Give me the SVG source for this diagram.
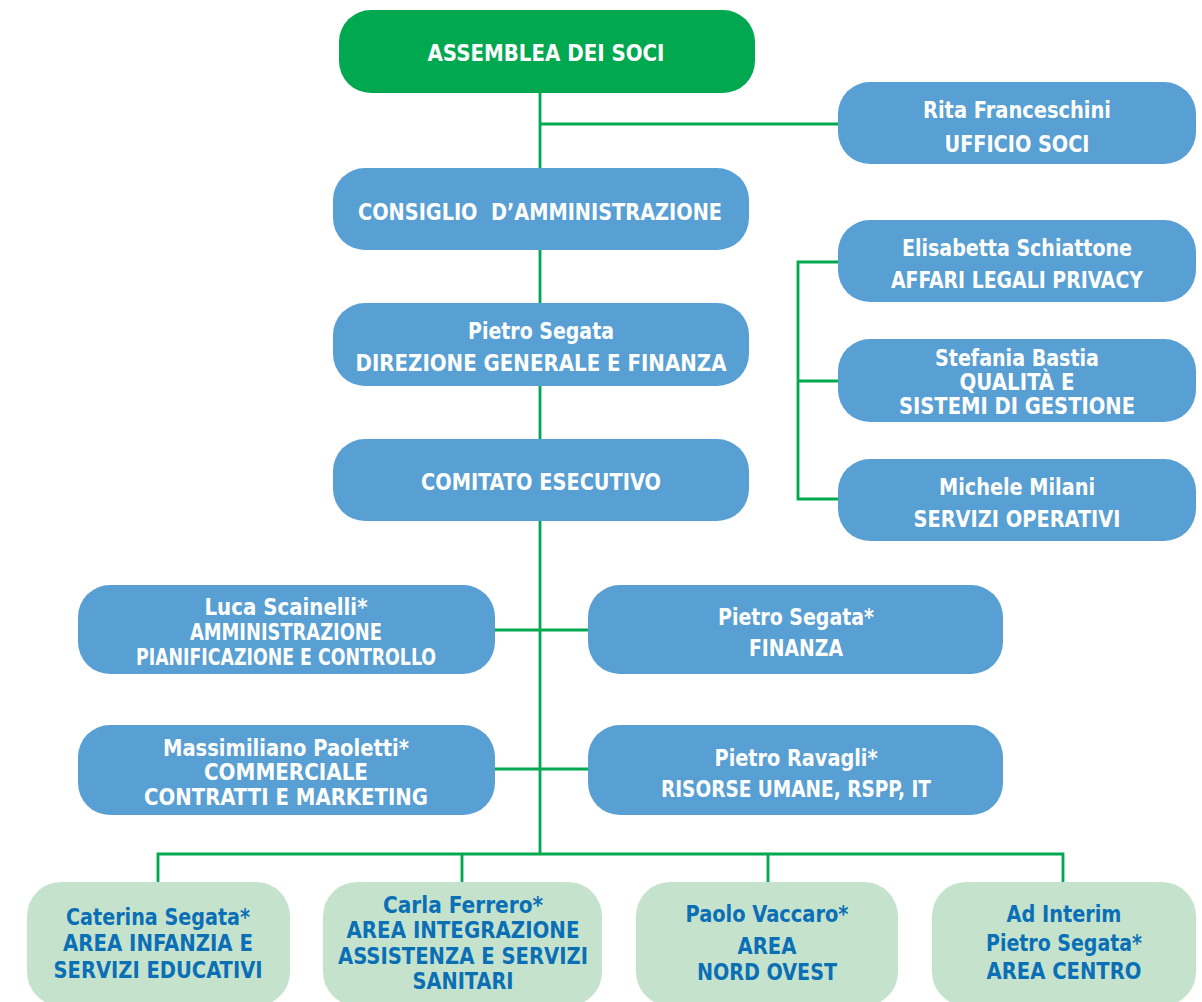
<svg xmlns="http://www.w3.org/2000/svg" width="1202" height="1002" viewBox="0 0 1202 1002">
<style>
.g{fill:#00a850}
.b{fill:#589fd3}
.l{fill:#c5e3cc}
text{font-family:"DejaVu Sans Condensed","DejaVu Sans","Liberation Sans",sans-serif;font-weight:bold;font-size:23px;text-anchor:middle}
.w{fill:#ffffff}
.d{fill:#0b6fb6}
.c{fill:none;stroke:#00a850;stroke-width:2.8}
</style>
<rect width="1202" height="1002" fill="#ffffff"/>
<g id="connectors" class="c">
<path d="M540 93V854"/>
<path d="M540 124H838"/>
<path d="M838 262H798V499H838M798 381H838"/>
<path d="M495 630H588M495 769H588"/>
<path d="M158 882V854H1063V882M462 854V882M768 854V882"/>
</g>
<g id="assemblea"><rect class="g" x="339" y="10" width="416" height="83" rx="32"/><text class="w" x="546" y="61" textLength="237" lengthAdjust="spacingAndGlyphs">ASSEMBLEA DEI SOCI</text></g>
<g id="ufficio-soci"><rect class="b" x="838" y="82" width="358" height="82" rx="32"/><text class="w" x="1017" y="118" textLength="188" lengthAdjust="spacingAndGlyphs">Rita Franceschini</text><text class="w" x="1017" y="152" textLength="145" lengthAdjust="spacingAndGlyphs">UFFICIO SOCI</text></g>
<g id="consiglio"><rect class="b" x="333" y="168" width="416" height="82" rx="32"/><text class="w" x="540" y="220" textLength="364" lengthAdjust="spacingAndGlyphs" xml:space="preserve">CONSIGLIO  D’AMMINISTRAZIONE</text></g>
<g id="direzione"><rect class="b" x="333" y="303" width="416" height="83" rx="32"/><text class="w" x="541" y="339" textLength="146" lengthAdjust="spacingAndGlyphs">Pietro Segata</text><text class="w" x="541" y="371" textLength="371" lengthAdjust="spacingAndGlyphs">DIREZIONE GENERALE E FINANZA</text></g>
<g id="comitato"><rect class="b" x="333" y="439" width="416" height="82" rx="32"/><text class="w" x="541" y="490" textLength="240" lengthAdjust="spacingAndGlyphs">COMITATO ESECUTIVO</text></g>
<g id="affari-legali"><rect class="b" x="838" y="220" width="358" height="82" rx="32"/><text class="w" x="1017" y="256" textLength="230" lengthAdjust="spacingAndGlyphs">Elisabetta Schiattone</text><text class="w" x="1017" y="288" textLength="252" lengthAdjust="spacingAndGlyphs">AFFARI LEGALI PRIVACY</text></g>
<g id="qualita"><rect class="b" x="838" y="339" width="358" height="83" rx="32"/><text class="w" x="1017" y="366" textLength="164" lengthAdjust="spacingAndGlyphs">Stefania Bastia</text><text class="w" x="1017" y="390" textLength="115" lengthAdjust="spacingAndGlyphs">QUALITÀ E</text><text class="w" x="1017" y="414" textLength="236" lengthAdjust="spacingAndGlyphs">SISTEMI DI GESTIONE</text></g>
<g id="servizi-operativi"><rect class="b" x="838" y="459" width="358" height="82" rx="32"/><text class="w" x="1017" y="495" textLength="156" lengthAdjust="spacingAndGlyphs">Michele Milani</text><text class="w" x="1017" y="527" textLength="207" lengthAdjust="spacingAndGlyphs">SERVIZI OPERATIVI</text></g>
<g id="amministrazione"><rect class="b" x="78" y="585" width="417" height="89" rx="32"/><text class="w" x="286" y="615" textLength="163" lengthAdjust="spacingAndGlyphs">Luca Scainelli*</text><text class="w" x="286" y="640" textLength="192" lengthAdjust="spacingAndGlyphs">AMMINISTRAZIONE</text><text class="w" x="286" y="665" textLength="300" lengthAdjust="spacingAndGlyphs">PIANIFICAZIONE E CONTROLLO</text></g>
<g id="finanza"><rect class="b" x="588" y="585" width="415" height="89" rx="32"/><text class="w" x="796" y="625" textLength="156" lengthAdjust="spacingAndGlyphs">Pietro Segata*</text><text class="w" x="796" y="656" textLength="94" lengthAdjust="spacingAndGlyphs">FINANZA</text></g>
<g id="commerciale"><rect class="b" x="78" y="725" width="417" height="90" rx="32"/><text class="w" x="286" y="756" textLength="246" lengthAdjust="spacingAndGlyphs">Massimiliano Paoletti*</text><text class="w" x="286" y="780" textLength="164" lengthAdjust="spacingAndGlyphs">COMMERCIALE</text><text class="w" x="286" y="805" textLength="284" lengthAdjust="spacingAndGlyphs">CONTRATTI E MARKETING</text></g>
<g id="risorse-umane"><rect class="b" x="588" y="725" width="415" height="90" rx="32"/><text class="w" x="796" y="766" textLength="163" lengthAdjust="spacingAndGlyphs">Pietro Ravagli*</text><text class="w" x="796" y="797" textLength="270" lengthAdjust="spacingAndGlyphs">RISORSE UMANE, RSPP, IT</text></g>
<g id="area-infanzia"><rect class="l" x="27" y="882" width="263" height="124" rx="34"/><text class="d" x="158" y="925" textLength="184" lengthAdjust="spacingAndGlyphs">Caterina Segata*</text><text class="d" x="158" y="951" textLength="190" lengthAdjust="spacingAndGlyphs">AREA INFANZIA E</text><text class="d" x="158" y="978" textLength="209" lengthAdjust="spacingAndGlyphs">SERVIZI EDUCATIVI</text></g>
<g id="area-integrazione"><rect class="l" x="323" y="882" width="279" height="124" rx="34"/><text class="d" x="463" y="913" textLength="160" lengthAdjust="spacingAndGlyphs">Carla Ferrero*</text><text class="d" x="463" y="938" textLength="233" lengthAdjust="spacingAndGlyphs">AREA INTEGRAZIONE</text><text class="d" x="463" y="964" textLength="250" lengthAdjust="spacingAndGlyphs">ASSISTENZA E SERVIZI</text><text class="d" x="463" y="989" textLength="101" lengthAdjust="spacingAndGlyphs">SANITARI</text></g>
<g id="area-nord-ovest"><rect class="l" x="636" y="882" width="262" height="124" rx="34"/><text class="d" x="767" y="922" textLength="163" lengthAdjust="spacingAndGlyphs">Paolo Vaccaro*</text><text class="d" x="767" y="954" textLength="59" lengthAdjust="spacingAndGlyphs">AREA</text><text class="d" x="767" y="980" textLength="140" lengthAdjust="spacingAndGlyphs">NORD OVEST</text></g>
<g id="area-centro"><rect class="l" x="932" y="882" width="264" height="124" rx="34"/><text class="d" x="1064" y="922" textLength="115" lengthAdjust="spacingAndGlyphs">Ad Interim</text><text class="d" x="1064" y="951" textLength="156" lengthAdjust="spacingAndGlyphs">Pietro Segata*</text><text class="d" x="1064" y="979" textLength="155" lengthAdjust="spacingAndGlyphs">AREA CENTRO</text></g>
</svg>
